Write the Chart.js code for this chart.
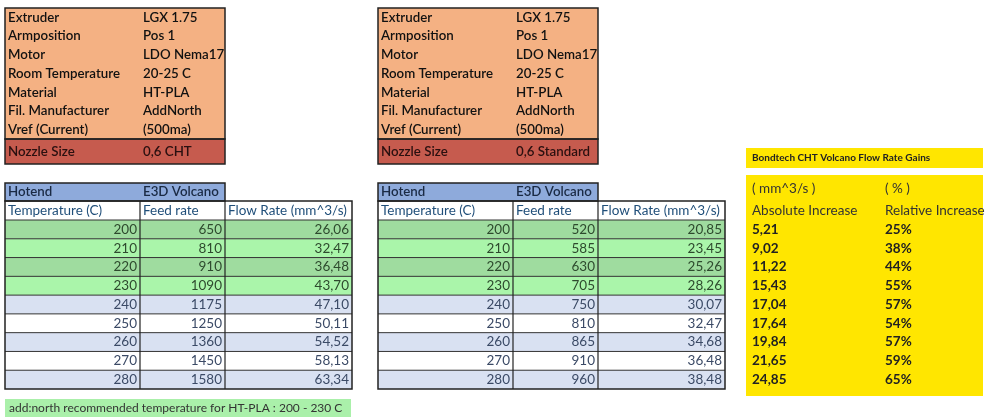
<!DOCTYPE html>
<html lang="en">
<head>
<meta charset="UTF-8">
<title>Bondtech CHT Volcano Flow Rate</title>
<script src="https://cdn.jsdelivr.net/npm/chart.js"></script>
<style>
  html, body { margin: 0; padding: 0; background: #fff; }
  #wrap { width: 985px; height: 420px; }
</style>
</head>
<body>
<div id="wrap"><canvas id="sheet"></canvas></div>
<script>
// spec tables
const specLabels = ['Extruder', 'Armposition', 'Motor', 'Room Temperature', 'Material', 'Fil. Manufacturer', 'Vref (Current)'];
const specValues = ['LGX 1.75', 'Pos 1', 'LDO Nema17', '20-25 C', 'HT-PLA', 'AddNorth', '(500ma)'];
const nozzleA = '0,6 CHT';
const nozzleB = '0,6 Standard';

// flow tables
const temps = [200, 210, 220, 230, 240, 250, 260, 270, 280];
const feedA = [650, 810, 910, 1090, 1175, 1250, 1360, 1450, 1580];
const flowA = ['26,06', '32,47', '36,48', '43,70', '47,10', '50,11', '54,52', '58,13', '63,34'];
const feedB = [520, 585, 630, 705, 750, 810, 865, 910, 960];
const flowB = ['20,85', '23,45', '25,26', '28,26', '30,07', '32,47', '34,68', '36,48', '38,48'];

// gains
const absInc = ['5,21', '9,02', '11,22', '15,43', '17,04', '17,64', '19,84', '21,65', '24,85'];
const relInc = ['25%', '38%', '44%', '55%', '57%', '54%', '57%', '59%', '65%'];

const rowFills = ['#9fdc9f', '#aaf5aa', '#9fdc9f', '#aaf5aa', '#d9e1f2', '#ffffff', '#d9e1f2', '#ffffff', '#d9e1f2'];
const FONT = 'Lato, "Open Sans", sans-serif';

const sheetPlugin = {
  id: 'sheet',
  afterDraw(chart) {
    const ctx = chart.ctx;
    const sx = chart.scales.x, sy = chart.scales.y;
    const px = v => sx.getPixelForValue(v);
    const py = v => sy.getPixelForValue(v);

    function rect(x0, y0, x1, y1, fill, stroke, lw) {
      ctx.save();
      if (fill) { ctx.fillStyle = fill; ctx.fillRect(px(x0), py(y0), px(x1) - px(x0), py(y1) - py(y0)); }
      if (stroke) { ctx.strokeStyle = stroke; ctx.lineWidth = lw || 1; ctx.strokeRect(px(x0), py(y0), px(x1) - px(x0), py(y1) - py(y0)); }
      ctx.restore();
    }
    function line(x0, y0, x1, y1, color, lw) {
      ctx.save();
      ctx.strokeStyle = color; ctx.lineWidth = lw || 1;
      ctx.beginPath(); ctx.moveTo(px(x0), py(y0)); ctx.lineTo(px(x1), py(y1)); ctx.stroke();
      ctx.restore();
    }
    function text(s, x, y, align, font, color) {
      ctx.save();
      ctx.font = font; ctx.fillStyle = color;
      ctx.textAlign = align; ctx.textBaseline = 'middle';
      ctx.fillText(String(s), px(x), py(y));
      ctx.restore();
    }

    const SPEC = '600 13.3px ' + FONT;
    const CELL = '13.5px ' + FONT;

    function block(dx, nozzle, feed, flow) {
      // spec box
      const rh = (139 - 8) / specLabels.length;
      rect(dx + 5, 8, dx + 225, 139, '#f4b183');
      specLabels.forEach((l, i) => {
        const y = 8 + rh * (i + 0.5);
        text(l, dx + 8, y, 'left', SPEC, '#111');
        text(specValues[i], dx + 143, y, 'left', SPEC, '#111');
      });
      rect(dx + 5, 139, dx + 225, 164, '#c65b4e');
      text('Nozzle Size', dx + 8, 152, 'left', SPEC, '#2a1010');
      text(nozzle, dx + 143, 152, 'left', SPEC, '#2a1010');
      rect(dx + 5, 8, dx + 225, 139, null, '#222', 1.5);
      rect(dx + 5, 139, dx + 225, 164, null, '#222', 1.5);

      // hotend row
      rect(dx + 5, 183, dx + 225, 201, '#8eaadb', '#222', 1.5);
      text('Hotend', dx + 8, 192, 'left', SPEC, '#1a2a44');
      text('E3D Volcano', dx + 143, 192, 'left', SPEC, '#1a2a44');

      // header row
      text('Temperature (C)', dx + 8, 211, 'left', CELL, '#1f4e79');
      text('Feed rate', dx + 143, 211, 'left', CELL, '#1f4e79');
      text('Flow Rate (mm^3/s)', dx + 228, 211, 'left', CELL, '#1f4e79');

      const top = 220, dh = (389 - 220) / temps.length;
      temps.forEach((t, i) => {
        const y0 = top + dh * i, y1 = y0 + dh;
        rect(dx + 5, y0, dx + 352, y1, rowFills[i]);
        line(dx + 5, y0, dx + 352, y0, '#333', 1);
        const ym = (y0 + y1) / 2;
        const c = i < 4 ? '#2e4a2e' : '#3b4a66';
        text(t, dx + 137, ym, 'right', CELL, c);
        text(feed[i], dx + 222, ym, 'right', CELL, c);
        text(flow[i], dx + 349, ym, 'right', CELL, c);
      });
      line(dx + 140, 201, dx + 140, 389, '#222', 1.2);
      line(dx + 225, 201, dx + 225, 389, '#222', 1.2);
      rect(dx + 5, 201, dx + 352, 389, null, '#222', 1.5);
    }

    block(0, nozzleA, feedA, flowA);
    block(373, nozzleB, feedB, flowB);

    // gains
    rect(746, 148, 983, 168, '#ffe600');
    text('Bondtech CHT Volcano Flow Rate Gains', 752, 158, 'left', 'bold 10px ' + FONT, '#222');
    rect(746, 175, 983, 396, '#ffe600');
    text('( mm^3/s )', 752, 189, 'left', CELL, '#333');
    text('( % )', 885, 189, 'left', CELL, '#333');
    text('Absolute Increase', 752, 211, 'left', CELL, '#333');
    text('Relative Increase', 885, 211, 'left', CELL, '#333');
    const dh = (389 - 220) / absInc.length;
    absInc.forEach((a, i) => {
      const ym = 220 + dh * (i + 0.5);
      text(a, 752, ym, 'left', 'bold 13.5px ' + FONT, '#222');
      text(relInc[i], 885, ym, 'left', 'bold 13.5px ' + FONT, '#222');
    });

    // footer
    rect(5, 399, 351, 417, '#aaf0aa');
    text('add:north recommended temperature for HT-PLA : 200 - 230 C', 9, 408, 'left', '12px ' + FONT, '#333');
  }
};

new Chart(document.getElementById('sheet').getContext('2d'), {
  type: 'scatter',
  data: { datasets: [{ data: [] }] },
  options: {
    responsive: true,
    maintainAspectRatio: false,
    animation: false,
    layout: { padding: 0 },
    plugins: { legend: { display: false }, tooltip: { enabled: false } },
    scales: {
      x: { type: 'linear', min: 0, max: 985, display: false },
      y: { type: 'linear', min: 0, max: 420, reverse: true, display: false }
    }
  },
  plugins: [sheetPlugin]
});
</script>
</body>
</html>
